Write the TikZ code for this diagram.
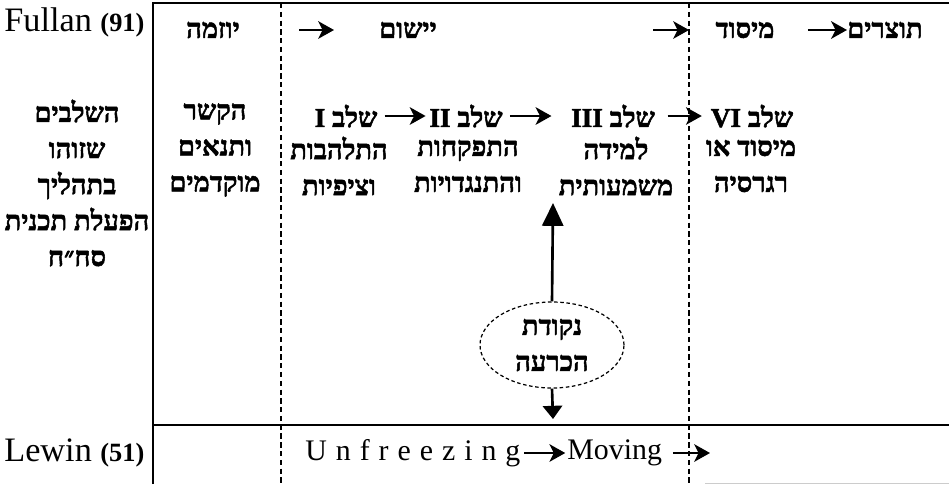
\documentclass[tikz,border=0pt]{standalone}
\usepackage{fontspec}
\setmainfont{Liberation Serif}
\newfontfamily\hebfont[Script=Hebrew, BoldFont={Liberation Serif Bold}, BoldFeatures={FakeBold=1.8}]{Liberation Serif}
\TeXXeTstate=1
\usetikzlibrary{
    arrows.meta,
    shapes.geometric,
    positioning
}
\newcommand{\hb}[1]{\beginR #1\endR}
\newcommand{\spread}{\spaceskip=0.3em plus 0pt\relax}
\tikzstyle{heb} = [
    font=\hebfont\bfseries\fontsize{15.5}{20.5}\selectfont,
    align=center,
    inner sep=0pt
]
\tikzstyle{lat} = [
    font=\fontsize{19.5}{22}\selectfont,
    inner sep=0pt
]
\tikzstyle{latb} = [
    font=\fontsize{17}{20}\selectfont,
    inner sep=0pt
]
\tikzstyle{flow} = [
    -{Stealth[length=9pt,width=10pt,inset=2.5pt]},
    line width=1.3pt
]
\tikzstyle{bigflow} = [
    -{Triangle[length=13pt,width=12pt]},
    line width=1.5pt
]
\tikzstyle{border} = [line width=1pt]
\tikzstyle{split} = [line width=0.8pt, dash pattern=on 3pt off 2pt]

\begin{document}
\begin{tikzpicture}[x=0.02cm, y=-0.02cm]
        \useasboundingbox (0,0) rectangle (949,484);

        % Table frame
        \draw[border] (153,484) -- (153,3) -- (949,3);
        \draw[border] (153,425) -- (949,425);
        \draw[split] (281,3) -- (281,484);
        \draw[split] (689,3) -- (689,484);
        \draw[gray!40] (705,483) -- (949,483);

        % Row labels
        \node[lat, anchor=west] (fullan) at (4,22) {Fullan {\fontsize{15}{18}\selectfont\bfseries(91)}};
        \node[lat, anchor=west] (lewin) at (4,453) {Lewin {\fontsize{15}{18}\selectfont\bfseries(51)}};
        \node[heb] (stages) at (77,183) {\hb{השלבים}\\\hb{שזוהו}\\\hb{בתהליך}\\\hb{הפעלת תכנית}\\\hb{סח״ח}};

        % Fullan phases
        \node[heb] (yozma) at (213,30) {\hb{יוזמה}};
        \node[heb] (yishum) at (408,30) {\hb{יישום}};
        \node[heb] (misud) at (745,30) {\hb{מיסוד}};
        \node[heb] (tozarim) at (885,30) {\hb{תוצרים}};
        \coordinate (p1a) at (299,30);
        \coordinate (p1b) at (334,30);
        \coordinate (p2a) at (653,30);
        \coordinate (p2b) at (689,30);
        \draw[flow] (p1a) -- (p1b);
        \draw[flow] (p2a) -- (p2b);
        \draw[flow, shorten <=33*0.02cm] (misud.east) -- (tozarim.west);

        % Preconditions
        \node[heb] (context) at (215,150) {\hb{הקשר}\\\hb{ותנאים}\\\hb{מוקדמים}};

        % Stages
        \node[heb] (s1) at (346,116) {\hb{שלב I}};
        \node[heb] (s2) at (466,116) {\hb{שלב II}};
        \node[heb] (s3) at (613,116) {\hb{שלב III}};
        \node[heb] (s4) at (752,116) {\hb{שלב VI}};
        \node[heb] (d1) at (339,166) {\hb{התלהבות}\\\hb{וציפיות}};
        \node[heb] (d2) at (468,166) {\hb{התפקחות}\\\hb{והתנגדויות}};
        \node[heb] (d3) at (616,166) {\hb{למידה}\\\hb{משמעותית}};
        \node[heb] (d4) at (751,166) {\hb{מיסוד או}\\\hb{רגרסיה}};
        \draw[flow, shorten <=4pt, shorten >=2pt] (s1) -- (s2);
        \draw[flow, shorten <=4pt, shorten >=11pt] (s2) -- (s3);
        \draw[flow, shorten <=7pt, shorten >=5pt] (s3) -- (s4);

        % Decision point
        \node[heb, ellipse, draw, line width=0.7pt, dash pattern=on 2pt off 1.5pt,
              minimum width=2.88cm, minimum height=1.72cm] (decide) at (552,345)
              {\hb{נקודת}\\\hb{הכרעה}};
        \coordinate (uptip) at (553,203);
        \coordinate (downtip) at (553,419);
        \draw[bigflow] (decide.north) -- (uptip);
        \draw[bigflow, -{Triangle[length=7.5pt,width=11pt]}] (decide.south) -- (downtip);

        % Lewin
        \node[latb, anchor=west] (unfreeze) at (305,453) {\spread U n f r e e z i n g};
        \node[latb, anchor=west] (moving) at (567,453) {Moving};
        \coordinate (mend) at (710,453);
        \draw[flow, shorten <=2pt, shorten >=1pt] (unfreeze) -- (moving);
        \draw[flow, shorten <=6pt] (moving) -- (mend);
    \end{tikzpicture}
\end{document}
